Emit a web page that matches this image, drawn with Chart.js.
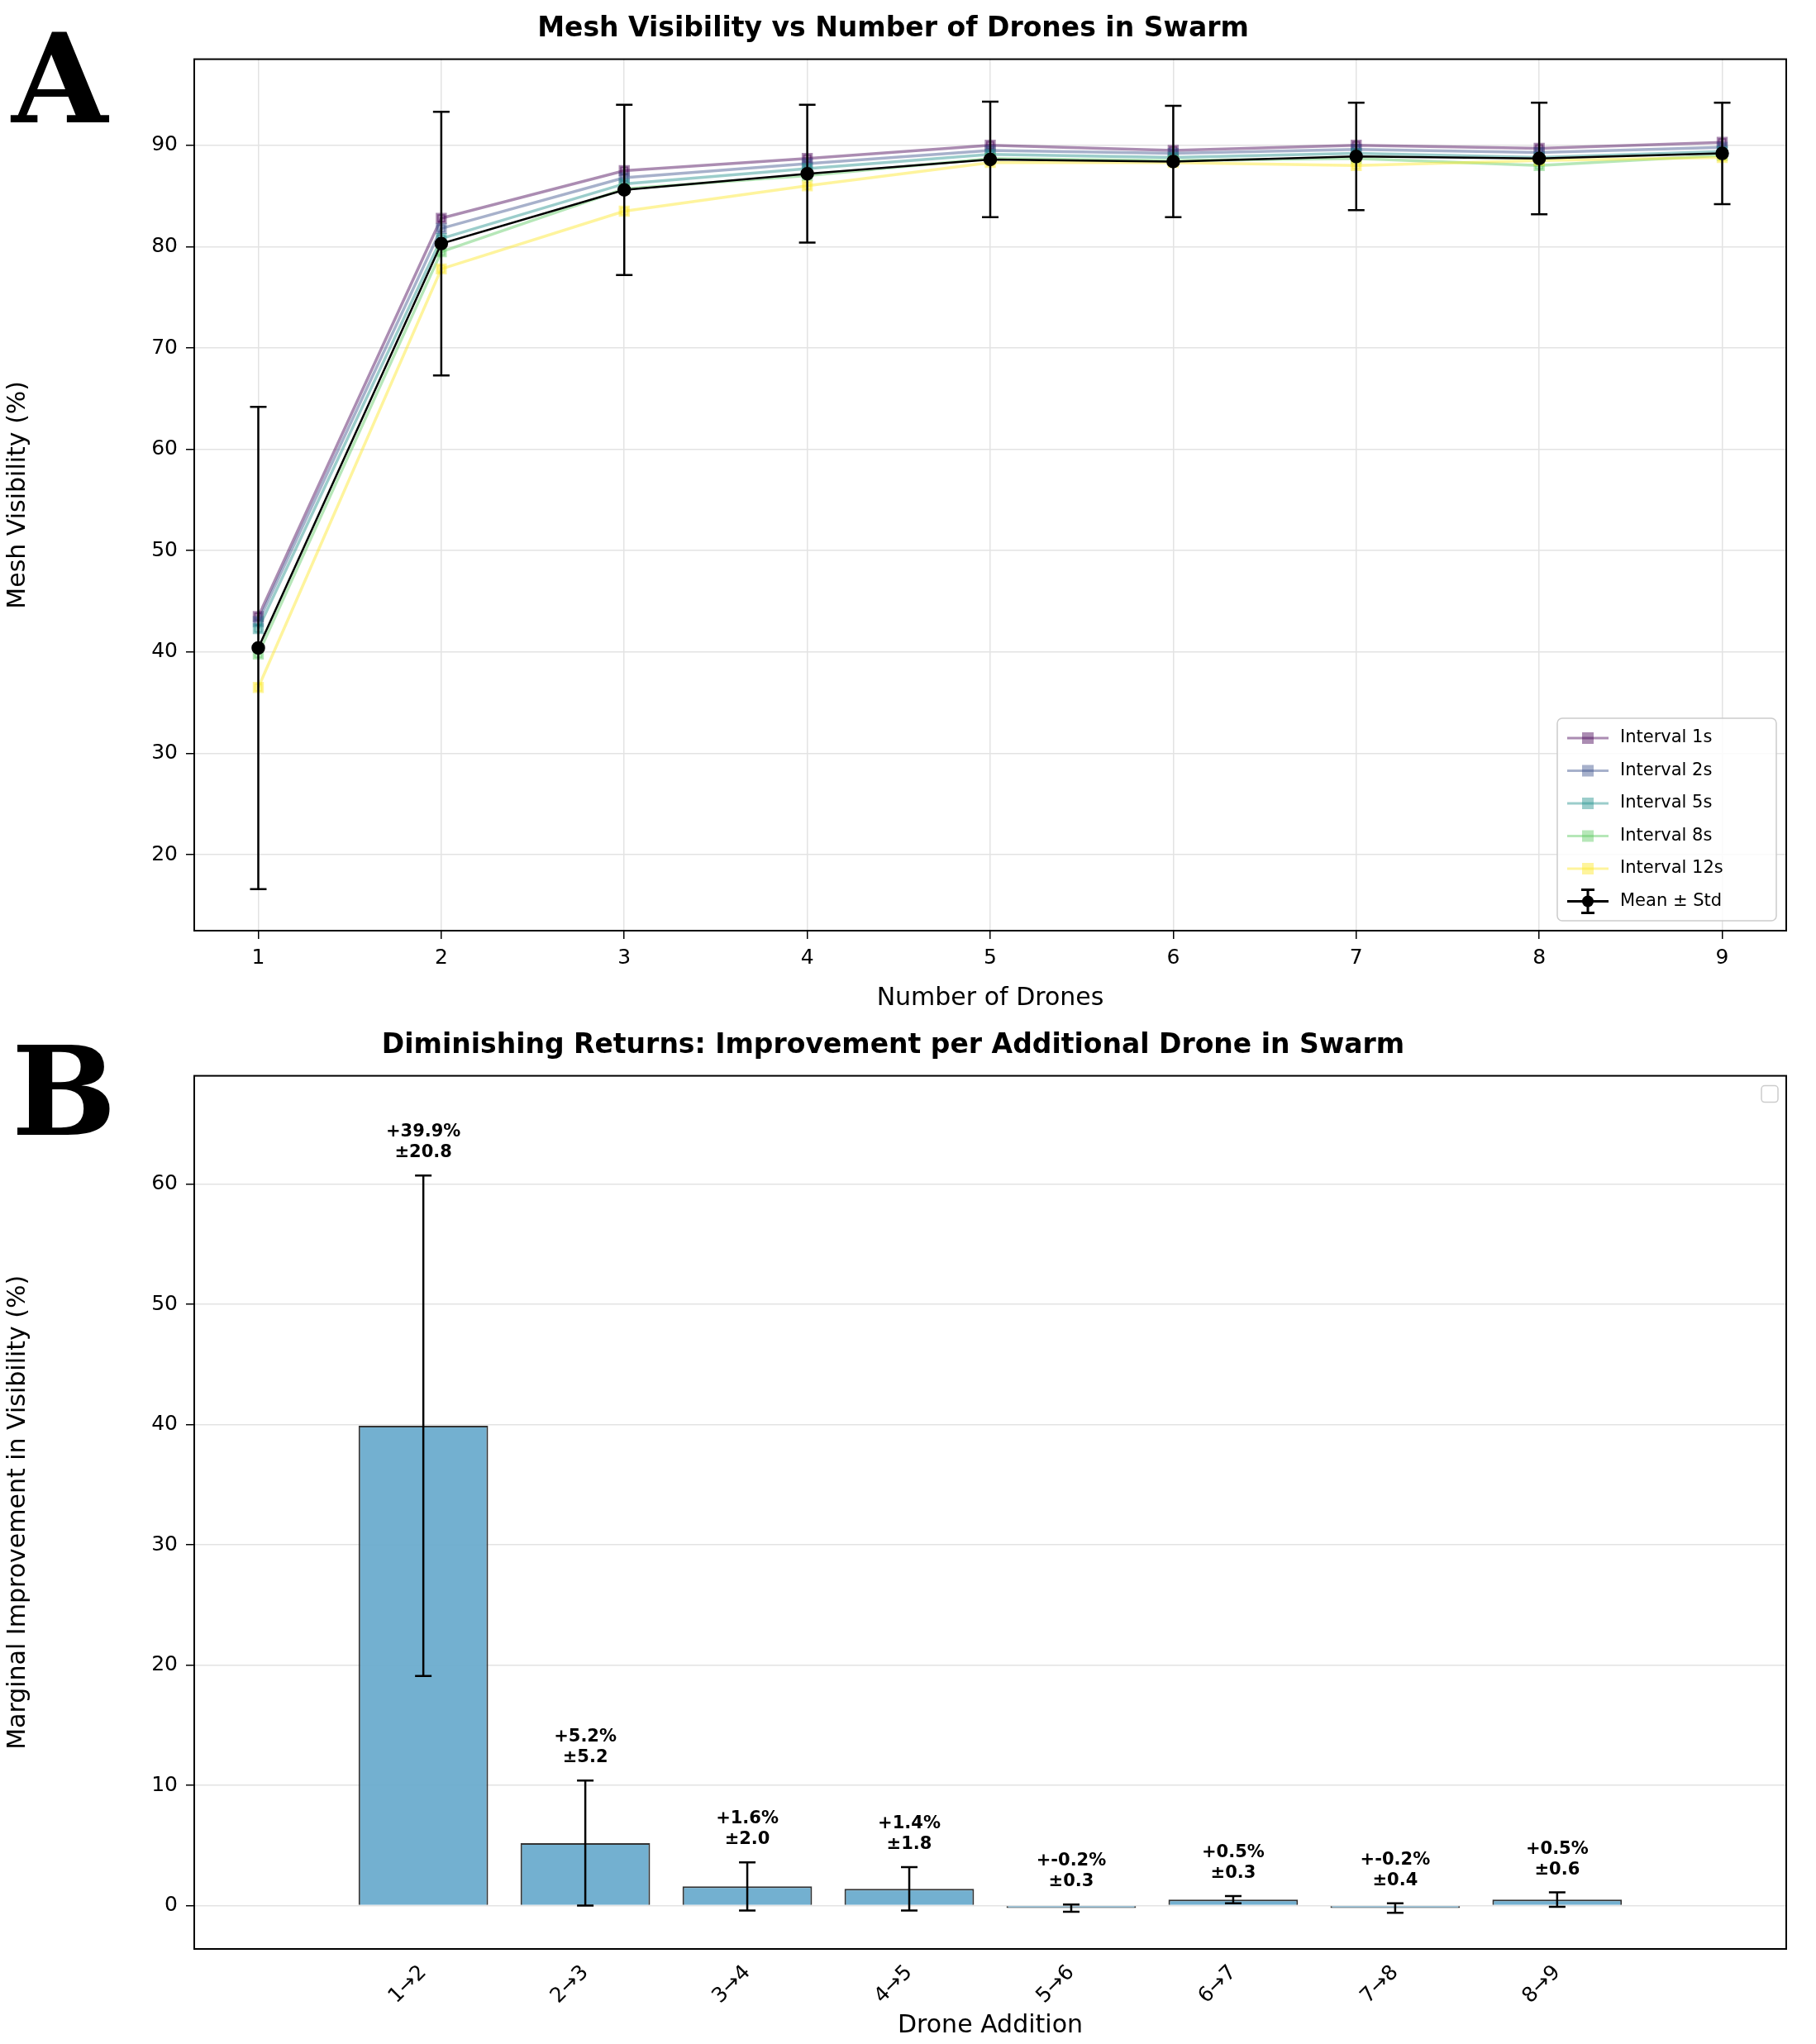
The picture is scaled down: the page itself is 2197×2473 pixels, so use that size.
<!DOCTYPE html>
<html><head><meta charset="utf-8">
<script src="https://cdn.jsdelivr.net/npm/chart.js@4.4.0/dist/chart.umd.min.js"></script>
<style>
html,body{margin:0;padding:0;background:#fff;width:2197px;height:2473px;overflow:hidden;font-family:"DejaVu Sans"}
.wrap{position:absolute;left:0;width:2197px}
.letter{position:absolute;font-family:"DejaVu Serif","Liberation Serif",serif;font-weight:bold;font-size:150px;line-height:1}
</style></head><body>
<div class="wrap" style="top:0;height:1230px"><canvas id="a"></canvas></div>
<div class="wrap" style="top:1230px;height:1243px"><canvas id="b"></canvas></div>
<div class="letter" style="left:14px;top:20px">A</div>
<div class="letter" style="left:14px;top:1245px">B</div>
<script>
const drones=[1,2,3,4,5,6,7,8,9];
const int1=[43.5,82.8,87.5,88.7,90.0,89.5,90.0,89.7,90.3];
const int2=[43.0,81.8,86.8,88.2,89.5,89.2,89.6,89.3,89.8];
const int5=[42.3,80.8,86.2,87.7,89.1,88.8,89.2,88.8,89.4];
const int8=[39.8,79.5,85.7,87.0,88.7,88.5,88.7,88.0,89.0];
const int12=[36.5,77.8,83.5,86.0,88.3,88.3,88.0,88.5,88.8];
const meanVis=[40.4,80.3,85.6,87.2,88.6,88.4,88.9,88.7,89.2];
const stdVis=[23.8,13.0,8.4,6.8,5.7,5.5,5.3,5.5,5.0];
const intervalNames=["Interval 1s","Interval 2s","Interval 5s","Interval 8s","Interval 12s"];
const intervalColors=["#440154","#3b528b","#21918c","#5ec962","#fde725"];
const additions=["1→2","2→3","3→4","4→5","5→6","6→7","7→8","8→9"];
const improve=[39.9,5.2,1.6,1.4,-0.2,0.5,-0.2,0.5];
const improveStd=[20.8,5.2,2.0,1.8,0.3,0.3,0.4,0.6];

Chart.defaults.font.family="DejaVu Sans";
Chart.defaults.color="#000";
function alpha(h,a){const n=parseInt(h.slice(1),16);return `rgba(${n>>16},${(n>>8)&255},${n&255},${a})`;}
const boxPlugin={id:'box',afterDraw(c){const a=c.chartArea,x=c.ctx;x.save();x.strokeStyle='#000';x.lineWidth=2;x.strokeRect(a.left,a.top,a.right-a.left,a.bottom-a.top);x.restore();}};
function errBars(c,xs,ys,sd,xScale){const x=c.ctx,sy=c.scales.y;x.save();x.strokeStyle='#000';x.lineWidth=2.5;
 xs.forEach((v,i)=>{const px=xScale(v,i),t=sy.getPixelForValue(ys[i]+sd[i]),b=sy.getPixelForValue(ys[i]-sd[i]);
 x.beginPath();x.moveTo(px,t);x.lineTo(px,b);x.moveTo(px-10,t);x.lineTo(px+10,t);x.moveTo(px-10,b);x.lineTo(px+10,b);x.stroke();});x.restore();}
const keys=[int1,int2,int5,int8,int12];
const dsA=keys.map((d,i)=>({label:intervalNames[i],data:drones.map((x,j)=>({x,y:d[j]})),borderColor:alpha(intervalColors[i],0.45),backgroundColor:alpha(intervalColors[i],0.45),pointStyle:'rect',pointRadius:7,borderWidth:3.5,order:5-i}));
dsA.push({label:"Mean ± Std",data:drones.map((x,j)=>({x,y:meanVis[j]})),borderColor:'#000',backgroundColor:'#000',pointRadius:7,borderWidth:2.5,order:-1});
const tickFont={size:25};
const gridA={color:'#e3e3e3',lineWidth:1.5,tickLength:10,tickColor:'#000'};
new Chart(document.getElementById('a'),{type:'line',data:{datasets:dsA},
options:{responsive:true,maintainAspectRatio:false,animation:false,
layout:{padding:{left:0,right:36,top:8,bottom:0}},
plugins:{legend:{display:false},title:{display:true,text:'Mesh Visibility vs Number of Drones in Swarm',font:{size:33,weight:'bold'},padding:{top:8,bottom:16}}},
scales:{x:{type:'linear',min:0.65,max:9.35,afterFit:s=>{s.height=104},afterBuildTicks:s=>{s.ticks=drones.map(v=>({value:v}))},ticks:{font:tickFont,padding:8},grid:gridA,title:{display:true,text:'Number of Drones',font:{size:30},padding:{top:4}},border:{display:false}},
y:{min:12.5,max:98.5,afterFit:s=>{s.width=235},afterBuildTicks:s=>{s.ticks=[20,30,40,50,60,70,80,90].map(v=>({value:v}))},ticks:{font:tickFont,padding:10},grid:gridA,title:{display:true,text:'Mesh Visibility (%)',font:{size:30}},border:{display:false}}}},
plugins:[boxPlugin,{id:'eb',afterDatasetsDraw(c){errBars(c,drones,meanVis,stdVis,v=>c.scales.x.getPixelForValue(v));
 const x=c.ctx,a=c.chartArea;const w=265,h=245,l=a.right-w-12,t=a.bottom-h-12;x.save();x.fillStyle='rgba(255,255,255,0.85)';x.strokeStyle='#ccc';x.lineWidth=1.5;x.beginPath();x.roundRect(l,t,w,h,6);x.fill();x.stroke();
 x.font='21px DejaVu Sans';x.textBaseline='middle';
 dsA.forEach((d,i)=>{const y=t+24+i*39.5;x.strokeStyle=d.borderColor;x.lineWidth=3;x.beginPath();x.moveTo(l+12,y);x.lineTo(l+62,y);x.stroke();
  if(i<5){x.fillStyle=d.backgroundColor;x.fillRect(l+30,y-7,14,14);}else{x.fillStyle='#000';x.beginPath();x.arc(l+37,y,7,0,7);x.fill();x.beginPath();x.moveTo(l+37,y-14);x.lineTo(l+37,y+14);x.moveTo(l+29,y-14);x.lineTo(l+45,y-14);x.moveTo(l+29,y+14);x.lineTo(l+45,y+14);x.stroke();}
  x.fillStyle='#000';x.fillText(d.label,l+76,y);});x.restore();}}]});

new Chart(document.getElementById('b'),{type:'bar',data:{datasets:[{data:improve.map((v,i)=>({x:i,y:v})),backgroundColor:'rgba(108,172,206,0.95)',borderColor:'#333',borderWidth:2,barPercentage:0.8,categoryPercentage:1}]},
options:{responsive:true,maintainAspectRatio:false,animation:false,
layout:{padding:{left:0,right:36,top:8,bottom:0}},
plugins:{legend:{display:false},tooltip:{enabled:false},title:{display:true,text:'Diminishing Returns: Improvement per Additional Drone in Swarm',font:{size:33,weight:'bold'},padding:{top:8,bottom:16}}},
scales:{x:{type:'linear',min:-0.8,max:7.8,afterFit:s=>{s.height=115},afterBuildTicks:s=>{s.ticks=additions.map((v,i)=>({value:i}))},ticks:{font:tickFont,maxRotation:45,minRotation:45,padding:4,callback:v=>additions[v]},grid:{display:false,tickLength:10,tickColor:'#000'},title:{display:true,text:'Drone Addition',font:{size:30},padding:{top:0}},border:{display:false}},
y:{min:-3.6,max:69,afterFit:s=>{s.width=235},afterBuildTicks:s=>{s.ticks=[0,10,20,30,40,50,60].map(v=>({value:v}))},ticks:{font:tickFont,padding:10},grid:{color:'#e3e3e3',lineWidth:1.5,tickLength:10,tickColor:'#000'},title:{display:true,text:'Marginal Improvement in Visibility (%)',font:{size:30}},border:{display:false}}}},
plugins:[boxPlugin,{id:'eb2',afterDatasetsDraw(c){errBars(c,additions,improve,improveStd,(v,i)=>c.scales.x.getPixelForValue(i));
 const x=c.ctx,sy=c.scales.y,a=c.chartArea;x.save();x.font='bold 21px DejaVu Sans';x.textAlign='center';x.fillStyle='#000';
 improve.forEach((v,i)=>{const px=c.scales.x.getPixelForValue(i),py=sy.getPixelForValue(v+improveStd[i])-22;
  x.fillText('±'+improveStd[i].toFixed(1),px,py);x.fillText('+'+v.toFixed(1)+'%',px,py-25);});
 x.strokeStyle='#ccc';x.lineWidth=1.5;x.beginPath();x.roundRect(a.right-30,a.top+12,20,20,4);x.stroke();x.restore();}}]});
</script></body></html>
